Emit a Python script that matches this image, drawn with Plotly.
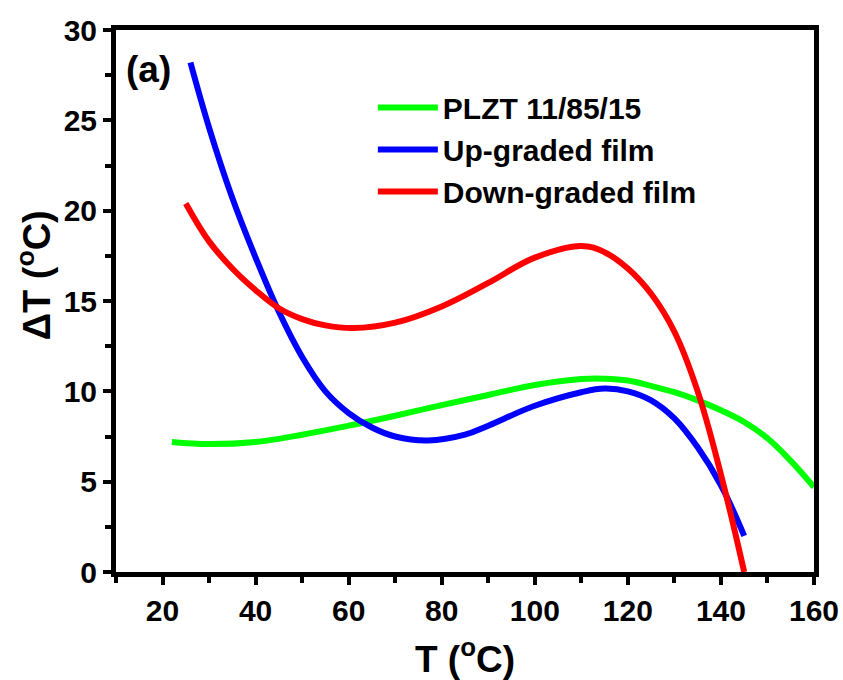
import plotly.graph_objects as go

# Temperature (°C) sample points and electrocaloric temperature change ΔT (°C)
t_plzt = [22, 30, 40, 50, 60, 70, 80, 90, 100, 110, 115, 120, 125, 130, 135, 140, 145, 150, 155, 160]
dt_plzt = [7.2, 7.08, 7.2, 7.6, 8.1, 8.65, 9.24, 9.8, 10.35, 10.68, 10.7, 10.6, 10.3, 9.95, 9.5, 8.95, 8.3, 7.4, 6.15, 4.7]

t_up = [26, 30, 35, 40, 45, 50, 55, 60, 65, 70, 77, 85, 90, 100, 110, 115, 120, 125, 130, 135, 140, 145]
dt_up = [28.2, 24.6, 20.7, 17.4, 14.4, 11.9, 10.0, 8.8, 8.0, 7.5, 7.28, 7.6, 8.1, 9.2, 9.95, 10.15, 10.0, 9.5, 8.5, 6.9, 4.8, 2.0]

t_down = [25, 30, 35, 40, 45, 50, 55, 61, 70, 80, 90, 100, 110, 115, 120, 125, 130, 135, 140, 145]
dt_down = [20.4, 18.3, 16.8, 15.6, 14.6, 14.0, 13.65, 13.5, 13.8, 14.7, 16.0, 17.4, 18.05, 17.7, 16.8, 15.4, 13.3, 10.0, 5.4, 0.0]

series_names = ["PLZT 11/85/15", "Up-graded film", "Down-graded film"]
series_colors = ["#00ff00", "#0000ff", "#ff0000"]

x_ticks = [20, 40, 60, 80, 100, 120, 140, 160]
y_ticks = [0, 5, 10, 15, 20, 25, 30]

FONT = "Arial, 'Liberation Sans', sans-serif"

fig = go.Figure()
for name, color, xs, ys in zip(series_names, series_colors,
                               [t_plzt, t_up, t_down], [dt_plzt, dt_up, dt_down]):
    fig.add_trace(go.Scatter(
        x=xs, y=ys, name=name, mode="lines",
        line=dict(color=color, width=6, shape="spline", smoothing=1.1),
    ))

axis_common = dict(
    showgrid=False, zeroline=False, automargin=False,
    showline=True, linecolor="black", linewidth=5, mirror=True,
    ticks="outside", ticklen=8, tickwidth=4, tickcolor="black",
    tickfont=dict(family=FONT, size=30, color="black", weight="bold"),
)

fig.update_xaxes(
    range=[10, 160], tickvals=x_ticks,
    minor=dict(ticks="outside", ticklen=6, tickwidth=4, tickcolor="black", dtick=10, tick0=10),
    title=dict(text="T (<sup>o</sup>C)", standoff=36,
               font=dict(family=FONT, size=37, color="black", weight="bold")),
    **axis_common,
)
fig.update_yaxes(
    range=[0, 30], tickvals=y_ticks,
    minor=dict(ticks="outside", ticklen=6, tickwidth=4, tickcolor="black", dtick=2.5, tick0=0),
    **axis_common,
)

# y-axis title, placed slightly above the plot's vertical centre
fig.add_annotation(
    text="ΔT (<sup>o</sup>C)", xref="paper", yref="paper", x=-0.117, y=0.548,
    xanchor="center", yanchor="middle", textangle=-90, showarrow=False,
    font=dict(family=FONT, size=38, color="black", weight="bold"),
)

fig.add_annotation(
    text="(a)", xref="paper", yref="paper", x=0.011, y=0.928,
    xanchor="left", yanchor="middle", showarrow=False,
    font=dict(family=FONT, size=37, color="black", weight="bold"),
)

fig.update_layout(
    width=843, height=680,
    margin=dict(l=116, r=29, t=30, b=108),
    paper_bgcolor="white", plot_bgcolor="white",
    showlegend=True,
    legend=dict(
        x=0.368, y=0.905, xanchor="left", yanchor="top",
        bgcolor="rgba(0,0,0,0)", borderwidth=0,
        font=dict(family=FONT, size=30, color="black", weight="bold"),
        itemwidth=60, tracegroupgap=0,
    ),
)

fig.write_html("out.html")
